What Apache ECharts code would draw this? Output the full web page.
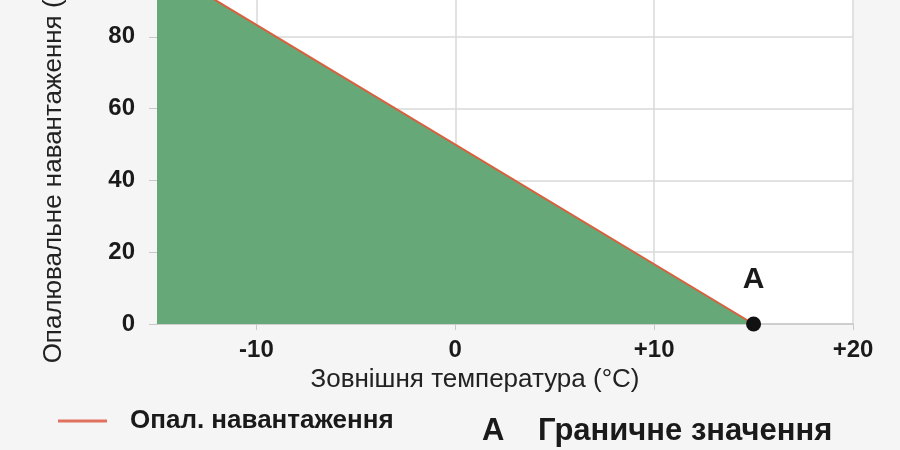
<!DOCTYPE html>
<html>
<head>
<meta charset="utf-8">
<script src="https://cdn.jsdelivr.net/npm/echarts@6/dist/echarts.min.js"></script>
<style>
html,body{margin:0;padding:0;background:#f5f5f5;overflow:hidden;}
#c{width:900px;height:450px;}
</style>
</head>
<body>
<div id="c"></div>
<script>
// Data
const xTicks = [-10, 0, 10, 20];
const loadX = [-15, 15];
const loadY = [100, 0];
const limitPoint = [15, 0];
const seriesNames = ['Опал. навантаження', 'Граничне значення'];
const limitLabel = 'A';
const xName = 'Зовнішня температура (°C)';
const yName = 'Опалювальне навантаження (%)';

const FONT = '"Liberation Sans", Arial, sans-serif';
const chart = echarts.init(document.getElementById('c'));
chart.setOption({
  backgroundColor: '#f5f5f5',
  animation: false,
  grid: {left: 157, right: 47, top: -35, bottom: 126, show: true, backgroundColor: '#ffffff', borderWidth: 0,
    containLabel: false, outerBoundsMode: 'none'},
  legend: [
    {
      data: [seriesNames[0]], left: 58, top: 408, padding: 0,
      icon: 'rect', itemWidth: 49, itemHeight: 3,
      itemStyle: {color: '#e0715c'},
      textStyle: {fontFamily: FONT, fontSize: 26, fontWeight: 'bold', color: '#1a1a1a', padding: [0, 0, 0, 18]},
      selectedMode: false
    },
    {
      data: [seriesNames[1]], left: 477, top: 416, padding: 0,
      icon: 'none', itemWidth: 0, itemHeight: 3,
      formatter: function (n) { return '{a|' + limitLabel + '}' + n; },
      textStyle: {fontFamily: FONT, fontSize: 31, fontWeight: 'bold', color: '#1a1a1a',
        rich: {a: {width: 56, fontFamily: FONT, fontSize: 31, fontWeight: 'bold', color: '#1a1a1a'}}},
      selectedMode: false
    }
  ],
  xAxis: {
    type: 'value', min: -15, max: 20,
    name: xName, nameLocation: 'middle', nameGap: 42,
    nameTextStyle: {fontFamily: FONT, fontSize: 26, color: '#222', padding: [0, 60, 0, 0]},
    axisLine: {show: true, onZero: false, lineStyle: {color: '#c8c8c8', width: 1.5}},
    axisTick: {show: true, length: 6, customValues: xTicks, lineStyle: {color: '#c8c8c8'}},
    axisLabel: {customValues: xTicks, margin: 14, fontFamily: FONT, fontSize: 24, fontWeight: 'bold', color: '#1a1a1a',
      formatter: function (v) { return v > 0 ? '+' + v : String(v); }},
    splitLine: {show: true, lineStyle: {color: '#d9d9d9', width: 1.5}}
  },
  yAxis: {
    type: 'value', min: 0, max: 100, interval: 20,
    name: yName, nameLocation: 'middle', nameGap: 90,
    nameTextStyle: {fontFamily: FONT, fontSize: 26, color: '#222', padding: [0, 42, 0, 0]},
    axisLine: {show: false, onZero: false},
    axisTick: {show: true, length: 8, lineStyle: {color: '#c8c8c8'}},
    axisLabel: {margin: 22, fontFamily: FONT, fontSize: 24, fontWeight: 'bold', color: '#1a1a1a'},
    splitLine: {show: true, lineStyle: {color: '#d9d9d9', width: 1.5}}
  },
  series: [
    {
      name: seriesNames[0], type: 'line', symbol: 'none',
      data: loadX.map((x, i) => [x, loadY[i]]),
      lineStyle: {color: '#d8603f', width: 2},
      itemStyle: {color: '#e0715c'},
      areaStyle: {color: '#67a878', opacity: 1},
      z: 3
    },
    {
      name: seriesNames[1], type: 'scatter', clip: false,
      data: [limitPoint], symbolSize: 15,
      itemStyle: {color: '#111111', opacity: 1},
      label: {show: true, position: 'top', distance: 22, formatter: limitLabel,
        fontFamily: FONT, fontSize: 30, fontWeight: 'bold', color: '#1a1a1a'},
      z: 5
    }
  ]
});
</script>
</body>
</html>
